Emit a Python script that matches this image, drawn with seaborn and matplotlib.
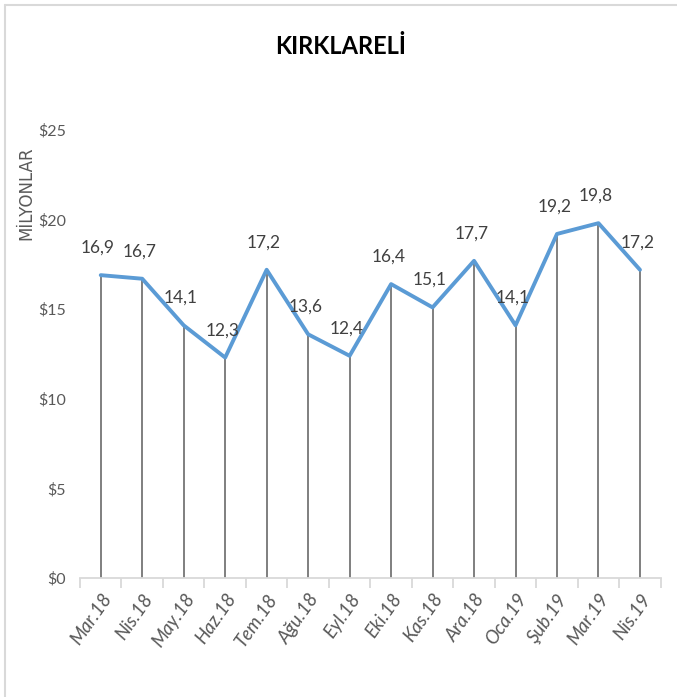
import matplotlib
matplotlib.use("Agg")
import matplotlib.pyplot as plt
from matplotlib.lines import Line2D
from matplotlib.ticker import FixedLocator, FuncFormatter
import seaborn as sns
import pandas as pd
import numpy as np

months = ["Mar.18", "Nis.18", "May.18", "Haz.18", "Tem.18", "Ağu.18", "Eyl.18",
          "Eki.18", "Kas.18", "Ara.18", "Oca.19", "Şub.19", "Mar.19", "Nis.19"]
values = [16.9, 16.7, 14.1, 12.3, 17.2, 13.6, 12.4, 16.4, 15.1, 17.7, 14.1, 19.2, 19.8, 17.2]
y_ticks = [0, 5, 10, 15, 20, 25]
title = "KIRKLARELİ"
unit_label = "MİLYONLAR"

sns.set_theme(style="white")
plt.rcParams['font.family'] = ['Lato', 'DejaVu Sans']

df = pd.DataFrame({"pos": np.arange(len(months)), "value": values})

fig = plt.figure(figsize=(6.77, 6.97), dpi=100)
ax = fig.add_axes([80/677, 1-578/697, (660.7-80)/677, (578-130)/697])

grey = "#595959"
ax.vlines(df["pos"], 0, df["value"], color="#7f7f7f", lw=1.4, zorder=1)
sns.lineplot(data=df, x="pos", y="value", ax=ax, color="#5B9BD5", lw=2.8, zorder=3)
for p, v in zip(df["pos"], df["value"]):
    ax.annotate(f"{v:.1f}".replace(".", ","), (p, v), xytext=(-2, 14),
                textcoords="offset points", ha="center", va="bottom",
                fontsize=12.5, color="#404040")

ax.set_xlim(-0.5, len(months) - 0.5)
ax.set_ylim(0, 25)
for s in ["top", "right", "left"]:
    ax.spines[s].set_visible(False)
ax.spines["bottom"].set_color("#d9d9d9")
ax.spines["bottom"].set_linewidth(1.3)

ax.set_yticks(y_ticks)
ax.yaxis.set_major_formatter(FuncFormatter(lambda v, _: f"${v:.0f}"))
ax.tick_params(axis="y", length=0, pad=10, labelsize=11.5, labelcolor=grey)

ax.set_xticks(df["pos"])
ax.set_xticklabels(months, rotation=55, ha="right", rotation_mode="anchor",
                   fontsize=13.5, color=grey, style="italic")
ax.tick_params(axis="x", which="major", length=0, pad=9)
ax.xaxis.set_minor_locator(FixedLocator(np.arange(-0.5, len(months), 1.0)))
ax.tick_params(axis="x", which="minor", length=7, width=1.3, color="#d9d9d9", direction="out", bottom=True)
ax.set_xlabel("")
ax.set_ylabel("")

fig.text(341/677, 1-47/697, title, ha="center", va="center", fontsize=17,
         fontweight="bold", color="black")
fig.text(26/677, 1-193/697, unit_label, ha="center", va="center", rotation=90,
         fontsize=12, color=grey, family=["DejaVu Sans"])

fig.add_artist(Line2D([4.5/677, 4.5/677], [0, 1-4.5/697], color="#d9d9d9", lw=1.5, transform=fig.transFigure))
fig.add_artist(Line2D([4.5/677, 1], [1-4.5/697, 1-4.5/697], color="#d9d9d9", lw=1.5, transform=fig.transFigure))

fig.savefig("out.png", dpi=100)
